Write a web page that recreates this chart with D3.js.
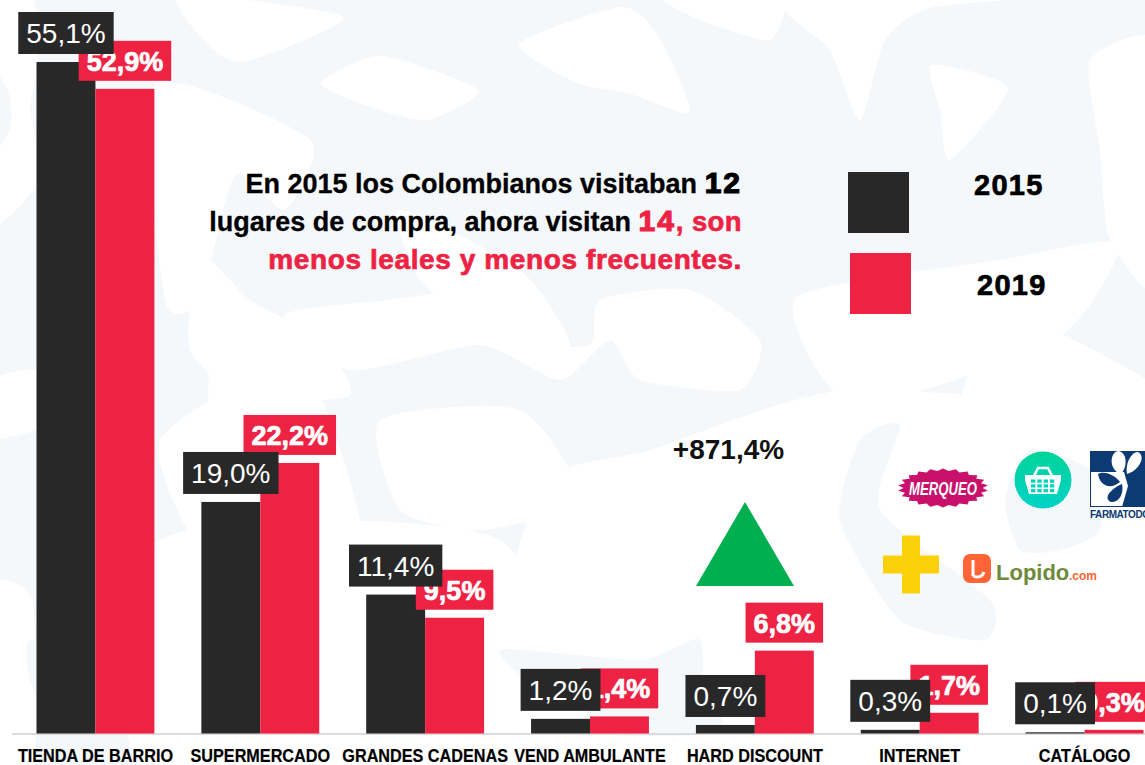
<!DOCTYPE html>
<html>
<head>
<meta charset="utf-8">
<script src="https://cdn.jsdelivr.net/npm/d3@7"></script>
<style>
  html, body { margin: 0; padding: 0; background: #fff; overflow: hidden; }
  text { font-family: "Liberation Sans", Arial, sans-serif; }
</style>
</head>
<body>
<svg id="chart" width="1145" height="765"></svg>
<script>
//data
var categories = ['TIENDA DE BARRIO', 'SUPERMERCADO', 'GRANDES CADENAS', 'VEND AMBULANTE', 'HARD DISCOUNT', 'INTERNET', 'CATÁLOGO'];
var series_years = ['2015', '2019'];
var values_2015 = [55.1, 19.0, 11.4, 1.2, 0.7, 0.3, 0.1];
var values_2019 = [52.9, 22.2, 9.5, 1.4, 6.8, 1.7, 0.3];
var growth_label = '+871,4%';

//layout
var w = 1145, h = 765,
    color = { dark: '#282828', red: '#ee2344', green: '#00b050', pale: '#f4f8fb', axis: '#dcdcdc' };

var svg = d3.select('#chart');

var x = d3.scaleBand().domain(categories).range([36.5, 1143.5]).paddingInner(47 / 165);
var x2 = d3.scaleBand().domain(series_years).range([0, x.bandwidth()]);
var y = d3.scaleLinear().domain([0, 55.1]).range([733.5, 62]);

function fmt(v) { return v.toFixed(1).replace('.', ',') + '%'; }

//background pattern: pale base with white blobs cut over it
var blob = d3.line().curve(d3.curveCardinalClosed.tension(0.35));
var bg = svg.append('g').attr('id', 'background');
bg.append('rect').attr('width', w).attr('height', h).attr('fill', color.pale);
var whites = [
  [[-20,-20],[30,-20],[38,60],[30,110],[40,180],[-20,225]],
  [[179,-5],[343,17],[248,61],[212,49]],
  [[321,83],[380,56],[478,90],[427,120],[365,105]],
  [[519,44],[621,7],[657,34],[690,112],[628,93],[577,83]],
  [[782,-5],[830,50],[860,120],[885,40],[930,8],[1050,-5]],
  [[932,65],[1008,88],[950,160],[940,110]],
  [[1090,60],[1160,45],[1160,290],[1110,240],[1100,150]],
  [[155,85],[310,140],[285,210],[235,175],[200,300],[165,300]],
  [[660,-5],[780,-5],[770,40],[700,20]],
  [[200,255],[250,300],[320,340],[350,395],[250,400],[190,350]],
  [[400,210],[520,270],[570,345],[500,340],[420,280]],
  [[285,315],[390,300],[490,290],[520,340],[590,345],[600,300],[690,290],[760,340],[740,390],[640,380],[610,340],[560,380],[480,345],[350,370]],
  [[796,298],[855,405],[1059,337],[1118,244],[1000,260]],
  [[1008,317],[1160,390],[1160,470],[1100,420],[960,420]],
  [[160,440],[300,365],[360,520],[340,560],[210,560]],
  [[380,420],[520,410],[580,500],[480,530],[400,510]],
  [[210,365],[250,375],[330,480],[220,470]],
  [[-20,385],[40,370],[60,420],[-20,440]],
  [[545,480],[650,450],[850,390],[1145,440],[1160,780],[470,780],[500,620]],
  [[160,540],[500,540],[560,780],[150,780]],
  [[-20,590],[32,600],[32,780],[-20,780]]
];
bg.selectAll('path').data(whites).join('path').attr('d', function(d) { return blob(d); }).attr('fill', '#fff');
var pales = [
  [[-20,60],[8,90],[10,130],[-20,165]],
  [[860,440],[900,425],[880,510],[990,600],[985,640],[900,620],[840,520]],
  [[1005,500],[1030,450],[1090,470],[1100,530],[1060,550],[1020,550]],
  [[500,650],[640,660],[700,640],[690,720],[560,700]],
  [[30,640],[120,660],[130,720],[40,700]],
  [[600,700],[700,690],[720,733],[590,733]]
];
bg.selectAll('path.pale').data(pales).join('path').attr('class', 'pale').attr('d', function(d) { return blob(d); }).attr('fill', color.pale);

//axis
var axis = svg.append('g').attr('id', 'axis').attr('transform', 'translate(0,' + y(0) + ')')
  .call(d3.axisBottom(x).tickSize(0).tickPadding(16).tickSizeOuter(0));
axis.select('.domain').attr('stroke', color.axis).attr('stroke-width', 2).attr('d', 'M12,0.5H' + w);
axis.selectAll('text').attr('font-size', 18).attr('font-weight', 'bold').attr('fill', '#000')
  .attr('font-family', '"Liberation Sans", Arial, sans-serif')
  .attr('stroke', '#000').attr('stroke-width', 0.2)
  .each(function() { // no narrow face installed, squeeze the glyphs
    d3.select(this).attr('lengthAdjust', 'spacingAndGlyphs').attr('textLength', this.getComputedTextLength() * 0.9);
  });

//bars
var rows = categories.map(function(c, i) { return { cat: c, a: values_2015[i], b: values_2019[i] }; });
var bars = svg.append('g').attr('id', 'bars');
bars.selectAll('rect.a').data(rows).join('rect').attr('class', 'a').attr('fill', color.dark)
  .attr('x', function(d) { return x(d.cat) + x2('2015'); }).attr('width', x2.bandwidth())
  .attr('y', function(d) { return y(d.a); }).attr('height', function(d) { return y(0) - y(d.a); });
bars.selectAll('rect.b').data(rows).join('rect').attr('class', 'b').attr('fill', color.red)
  .attr('x', function(d) { return x(d.cat) + x2('2019'); }).attr('width', x2.bandwidth())
  .attr('y', function(d) { return y(d.b); }).attr('height', function(d) { return y(0) - y(d.b); });

//value labels: a box sized on its text, centred over the bar
function labels(id, key, year, fill, opt) {
  var g = svg.append('g').attr('id', id);
  rows.forEach(function(d) {
    var cx = x(d.cat) + x2(year) + x2.bandwidth() / 2,
        bottom = y(d[key]) - 8;
    var box = g.append('rect').attr('fill', fill);
    var t = g.append('text').attr('x', cx).attr('y', bottom - opt.base)
      .attr('text-anchor', 'middle').attr('fill', '#fff').attr('font-size', opt.size)
      .attr('font-weight', opt.weight).text(fmt(d[key]));
    if (opt.stroke) t.attr('stroke', '#fff').attr('stroke-width', opt.stroke);
    var tw = t.node().getComputedTextLength() + opt.pad * 2;
    box.attr('x', cx - tw / 2).attr('y', bottom - opt.h).attr('width', tw).attr('height', opt.h);
  });
}
labels('labels-2019', 'b', '2019', color.red, { size: 27, weight: 'bold', pad: 8, h: 40, base: 10, stroke: 0.7 });
labels('labels-2015', 'a', '2015', color.dark, { size: 28, weight: 'normal', pad: 8, h: 42, base: 11 });

//paragraph: text, fill, stroke, size, spacing
var para = svg.append('g').attr('id', 'note').attr('text-anchor', 'end').attr('font-weight', 'bold');
var lines = [
  { y: 193, parts: [['En 2015 los Colombianos visitaban ', '#000', 0.3, 27, 0], ['12', '#000', 1.2, 30, 2]] },
  { y: 231, parts: [['lugares de compra, ahora visitan ', '#000', 0.3, 27, 0], ['14', color.red, 1.2, 30, 2], [', son', color.red, 0.6, 27.5, 0.4]] },
  { y: 269, parts: [['menos leales y menos frecuentes.', color.red, 0.7, 28, 0.6]] }
];
lines.forEach(function(l) {
  var t = para.append('text').attr('x', 742).attr('y', l.y);
  l.parts.forEach(function(p) {
    t.append('tspan').attr('fill', p[1]).attr('stroke', p[1]).attr('stroke-width', p[2])
     .attr('font-size', p[3]).attr('letter-spacing', p[4]).text(p[0]);
  });
});

//legend
var legend = svg.append('g').attr('id', 'legend');
legend.append('rect').attr('x', 848).attr('y', 172).attr('width', 61).attr('height', 61).attr('fill', color.dark);
legend.append('rect').attr('x', 850).attr('y', 253).attr('width', 61).attr('height', 61).attr('fill', color.red);
legend.selectAll('text').data(series_years).join('text')
  .attr('x', function(d, i) { return 974 + i * 3; }).attr('y', function(d, i) { return 195 + i * 100; })
  .attr('font-size', 29).attr('letter-spacing', 1.3).attr('font-weight', 'bold').attr('fill', '#000').attr('stroke', '#000').attr('stroke-width', 0.7)
  .text(function(d) { return d; });

//growth marker
svg.append('text').attr('x', 728.5).attr('y', 459).attr('text-anchor', 'middle').attr('font-size', 28)
  .attr('font-weight', 'bold').attr('fill', '#111').text(growth_label);
svg.append('path').attr('d', 'M745,502L794,586H696Z').attr('fill', color.green);

//logos
var logos = svg.append('g').attr('id', 'logos');
var badge = d3.range(0, 44).map(function(i) {
  var a = i / 44 * 2 * Math.PI, r = i % 2 ? 1.03 : 0.9;
  return [943 + 44 * r * Math.cos(a), 488 + 19 * r * Math.sin(a)];
});
logos.append('path').attr('d', 'M' + badge.join('L') + 'Z').attr('fill', '#c9106b');
logos.append('text').attr('x', 943).attr('y', 495).attr('text-anchor', 'middle').attr('font-size', 18)
  .attr('lengthAdjust', 'spacingAndGlyphs').attr('textLength', 68)
  .attr('font-weight', 'bold').attr('font-style', 'italic').attr('fill', '#fff').text('MERQUEO');

var grad = svg.append('defs').append('linearGradient').attr('id', 'teal').attr('x1', 0).attr('y1', 0).attr('x2', 0).attr('y2', 1);
grad.append('stop').attr('offset', 0).attr('stop-color', '#00d49a');
grad.append('stop').attr('offset', 1).attr('stop-color', '#00d2c6');
logos.append('circle').attr('cx', 1043).attr('cy', 480).attr('r', 28.5).attr('fill', 'url(#teal)');
logos.append('path').attr('d', 'M1034,476L1038,468H1048L1052,476').attr('fill', 'none').attr('stroke', '#fff').attr('stroke-width', 2.5);
logos.append('path').attr('d', 'M1025,475H1061V480L1057,494H1029L1025,480Z').attr('fill', '#fff');
d3.range(3).forEach(function(r) {
  d3.range(4).forEach(function(c) {
    logos.append('rect').attr('x', 1031 + c * 6.3).attr('y', 479.5 + r * 4.8).attr('width', 4.4).attr('height', 3.2).attr('fill', '#00d2b8');
  });
});

logos.append('rect').attr('x', 1090).attr('y', 451).attr('width', 56).attr('height', 56).attr('fill', '#0d3a72');
logos.append('rect').attr('x', 1091).attr('y', 472).attr('width', 50).attr('height', 34).attr('fill', '#fff');
logos.append('path').attr('d', 'M1118,451H1146V507H1122L1128,486Z').attr('fill', '#0d3a72');
logos.append('path').attr('d', 'M1121,474C1108,470 1110,452 1118,451C1127,452 1128,466 1121,474Z').attr('fill', '#fff');
logos.append('path').attr('d', 'M1127,474C1125,462 1132,452 1138,452C1146,456 1140,470 1127,474Z').attr('fill', '#fff');
logos.append('path').attr('d', 'M1098,474C1105,470 1116,476 1120,482C1110,490 1100,486 1098,474Z').attr('fill', '#0d3a72');
logos.append('path').attr('d', 'M1122,484C1124,492 1120,503 1111,502C1102,498 1112,488 1122,484Z').attr('fill', '#0d3a72');
logos.append('text').attr('x', 1090).attr('y', 518).attr('font-size', 10).attr('font-weight', 'bold').attr('fill', '#0d3a72').attr('textLength', 60).text('FARMATODO');

logos.append('path').attr('d', 'M902,535.5H920V555.5H939V573.5H920V593.5H902V573.5H883V555.5H902Z').attr('fill', '#fdd10a');

logos.append('rect').attr('x', 963).attr('y', 554).attr('width', 28).attr('height', 29).attr('rx', 7).attr('fill', '#ff6436');
logos.append('path').attr('d', 'M973,560V575C975,578 982,578 984,572').attr('fill', 'none').attr('stroke', '#fff').attr('stroke-width', 3);
logos.append('text').attr('x', 996).attr('y', 580).attr('font-size', 22).attr('font-weight', 'bold').attr('fill', '#6e8a3a').text('Lopido');
logos.append('text').attr('x', 1069).attr('y', 580).attr('font-size', 12).attr('font-weight', 'bold').attr('fill', '#ff6436').text('.com');
</script>
</body>
</html>
